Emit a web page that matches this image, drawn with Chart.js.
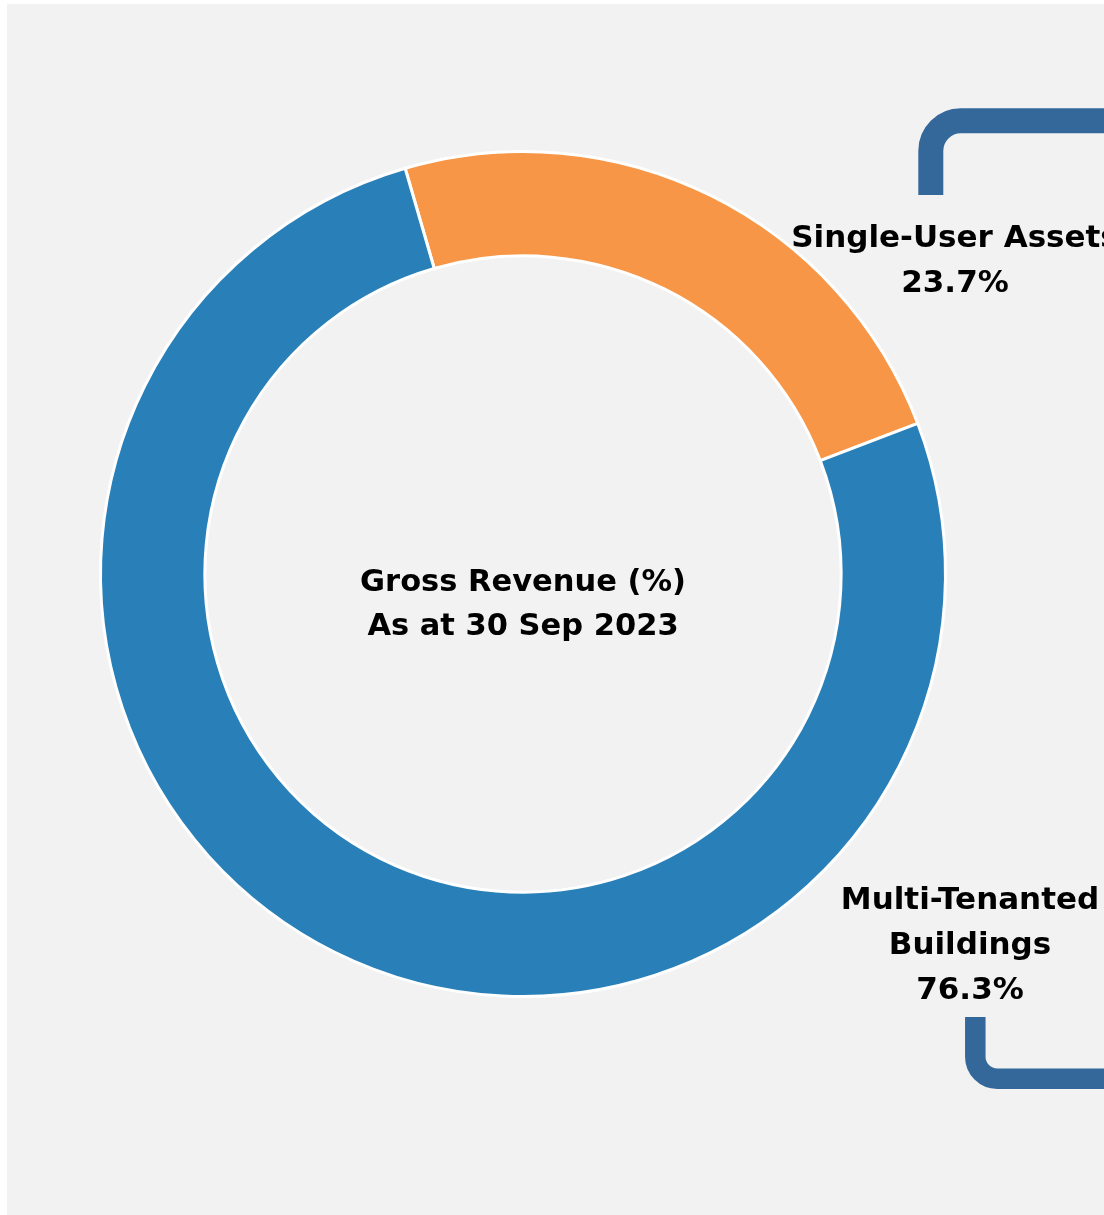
<!DOCTYPE html>
<html>
<head>
<meta charset="utf-8">
<script src="https://cdn.jsdelivr.net/npm/chart.js@4/dist/chart.umd.min.js"></script>
<style>
  html, body { margin: 0; padding: 0; background: #ffffff; }
  #wrap { position: relative; width: 1104px; height: 1215px; }
  canvas { display: block; }
</style>
</head>
<body>
<div id="wrap"><canvas id="c" width="1104" height="1215"></canvas></div>
<script>
// ---- data ----
const categories = ['Single-User Assets', ['Multi-Tenanted', 'Buildings']];
const values = [23.7, 76.3];
const colors = ['#F79646', '#2980B9'];
const centerLines = ['Gross Revenue (%)', 'As at 30 Sep 2023'];

const FONT = '"DejaVu Sans", "Open Sans", sans-serif';

// label anchor placement (layout, not data)
const labelPlacement = [
  { x: 955, y: 247, gap: 45 },
  { x: 970, y: 909, gap: 45 }
];

const decorPlugin = {
  id: 'decor',
  beforeDraw(chart) {
    const ctx = chart.ctx;
    ctx.save();
    ctx.fillStyle = '#F2F2F2';
    ctx.fillRect(7, 4, chart.width - 7, chart.height - 4);
    ctx.restore();
  },
  afterDraw(chart) {
    const ctx = chart.ctx;
    const area = chart.chartArea;
    const cx = (area.left + area.right) / 2;
    ctx.save();
    // brackets
    ctx.strokeStyle = '#34689A';
    ctx.lineCap = 'butt';
    ctx.lineWidth = 25;
    ctx.beginPath();
    ctx.moveTo(930.8, 195);
    ctx.arcTo(930.8, 120.8, 1000, 120.8, 30);
    ctx.lineTo(1120, 120.8);
    ctx.stroke();
    ctx.lineWidth = 20.5;
    ctx.beginPath();
    ctx.moveTo(975.3, 1017);
    ctx.arcTo(975.3, 1078.7, 1040, 1078.7, 22);
    ctx.lineTo(1120, 1078.7);
    ctx.stroke();

    // center text
    ctx.fillStyle = '#000000';
    ctx.textAlign = 'center';
    ctx.textBaseline = 'alphabetic';
    ctx.font = 'bold 30.5px ' + FONT;
    ctx.fillText(centerLines[0], cx, 591);
    ctx.fillText(centerLines[1], cx, 635);

    // segment labels
    ctx.font = 'bold 31px ' + FONT;
    categories.forEach((cat, i) => {
      const lines = (Array.isArray(cat) ? cat.slice() : [cat]);
      lines.push(values[i].toFixed(1) + '%');
      const p = labelPlacement[i];
      lines.forEach((ln, k) => ctx.fillText(ln, p.x, p.y + k * p.gap));
    });
    ctx.restore();
  }
};

new Chart(document.getElementById('c'), {
  type: 'doughnut',
  data: {
    labels: categories.map(c => Array.isArray(c) ? c.join(' ') : c),
    datasets: [{
      data: values,
      backgroundColor: colors,
      borderColor: '#ffffff',
      borderWidth: 3,
      hoverOffset: 0
    }]
  },
  options: {
    responsive: false,
    animation: false,
    rotation: -16.2,
    cutout: '75.3%',
    layout: { padding: { left: 99, right: 157, top: 150, bottom: 217 } },
    plugins: {
      legend: { display: false },
      tooltip: { enabled: false },
      title: { display: false }
    }
  },
  plugins: [decorPlugin]
});
</script>
</body>
</html>
